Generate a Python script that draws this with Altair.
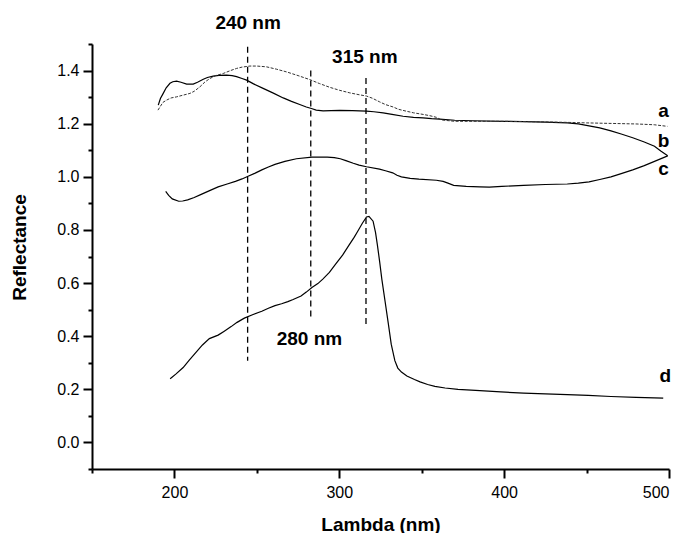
import altair as alt
import pandas as pd

# ---- data ----
a_x = [190, 193, 195.3, 198, 201.3, 205, 209.4, 212, 215.5, 218.5, 221.5, 225, 229.6, 234, 237.7, 241,
       245.8, 250, 255.9, 262, 268, 275, 282.1, 288, 294.2, 300, 306.4, 312, 316.5, 320, 324.5, 328,
       332.6, 336, 340.7, 345, 350.8, 355, 358.9, 362, 370, 381, 400, 421.5, 438, 450, 465, 480, 491, 499]
a_y = [1.251, 1.28, 1.289, 1.297, 1.301, 1.307, 1.314, 1.322, 1.339, 1.357, 1.370, 1.381, 1.389, 1.400,
       1.408, 1.413, 1.417, 1.417, 1.414, 1.405, 1.395, 1.381, 1.366, 1.351, 1.337, 1.326, 1.316, 1.309,
       1.304, 1.296, 1.282, 1.272, 1.263, 1.254, 1.247, 1.241, 1.235, 1.230, 1.224, 1.214, 1.209, 1.209,
       1.209, 1.207, 1.205, 1.203, 1.201, 1.199, 1.196, 1.19]

b_x = [190.2, 191.5, 193.2, 195, 197.3, 199, 201.3, 204, 207.4, 211.4, 214, 217.5, 220, 223.5, 227, 231.6,
       235, 237.7, 241, 243.8, 248, 253.8, 260, 266, 271, 276, 280, 283.1, 286, 290.2, 295, 300.3, 308,
       316.5, 321, 326.6, 332, 338.7, 345, 350.8, 356, 360.9, 370, 381, 400, 411.8, 425, 438.3, 445,
       451.5, 458, 464.8, 471, 478, 485, 491.2, 495, 499.2]
b_y = [1.27, 1.295, 1.314, 1.335, 1.352, 1.358, 1.360, 1.356, 1.349, 1.349, 1.356, 1.367, 1.374, 1.379,
       1.382, 1.383, 1.381, 1.377, 1.370, 1.364, 1.350, 1.333, 1.315, 1.297, 1.284, 1.272, 1.263, 1.257,
       1.251, 1.248, 1.249, 1.25, 1.249, 1.247, 1.245, 1.241, 1.235, 1.228, 1.224, 1.222, 1.219, 1.217,
       1.213, 1.211, 1.209, 1.208, 1.206, 1.203, 1.199, 1.192, 1.184, 1.173, 1.161, 1.147, 1.131, 1.115,
       1.097, 1.079]

c_x = [194.7, 196.5, 198.7, 202.6, 205, 208, 212, 215.9, 221, 226.5, 232, 237, 241, 245, 249, 253, 257,
       261, 267, 274, 283.4, 292.7, 297, 300.6, 304, 308.5, 312, 316.5, 324.4, 328, 332.4, 335, 337.7,
       343, 348.3, 358.9, 363, 365.5, 369.4, 377, 385.3, 391, 398.6, 411.8, 425, 438.3, 445, 451.5, 458,
       464.8, 471, 478, 485, 491.2, 499.2]
c_y = [0.945, 0.93, 0.917, 0.908, 0.909, 0.913, 0.922, 0.933, 0.947, 0.962, 0.973, 0.983, 0.992, 1.003,
       1.014, 1.026, 1.037, 1.047, 1.058, 1.068, 1.074, 1.074, 1.072, 1.068, 1.061, 1.051, 1.044, 1.038,
       1.029, 1.023, 1.015, 1.006, 1.0, 0.994, 0.991, 0.987, 0.983, 0.977, 0.968, 0.964, 0.962, 0.961,
       0.964, 0.968, 0.971, 0.973, 0.976, 0.981, 0.99, 1.0, 1.012, 1.026, 1.042, 1.058, 1.079]

d_x = [197.4, 201, 205.3, 209, 213.2, 217, 221.2, 226.5, 230, 234.4, 238, 242.4, 247, 253, 257, 261, 265,
       268.8, 272, 276.8, 280, 283.4, 287, 290, 294, 298, 302, 306, 309, 311.2, 314, 316.5, 318, 320.5,
       322, 323.1, 324.5, 325.8, 327.8, 329.7, 331.5, 333.7, 335.5, 337.7, 341, 345.6, 349, 353.6, 358,
       364.2, 372, 385.3, 398, 411.8, 425, 438.3, 451, 464.8, 480, 496.5]
d_y = [0.24, 0.258, 0.282, 0.31, 0.34, 0.367, 0.391, 0.404, 0.418, 0.436, 0.452, 0.468, 0.48, 0.494,
       0.505, 0.515, 0.522, 0.53, 0.538, 0.551, 0.566, 0.583, 0.598, 0.615, 0.64, 0.673, 0.705, 0.744,
       0.772, 0.795, 0.825, 0.849, 0.851, 0.833, 0.79, 0.744, 0.68, 0.615, 0.53, 0.449, 0.37, 0.308,
       0.28, 0.265, 0.25, 0.237, 0.228, 0.218, 0.211, 0.205, 0.2, 0.195, 0.19, 0.186, 0.183, 0.18,
       0.177, 0.173, 0.17, 0.167]

# dashed marker lines
mark_x = [244.4, 282.7, 316.2]
mark_top = [1.49, 1.40, 1.372]
mark_bottom = [0.308, 0.461, 0.44]

# annotation labels
note_text = ["240 nm", "315 nm", "280 nm"]
note_x = [244.7, 315.5, 281.9]
note_y = [1.555, 1.429, 0.368]

curve_names = ["a", "b", "c", "d"]
curve_label_x = [496.7, 496.7, 496.7, 497.7]
curve_label_y = [1.226, 1.1125, 1.006, 0.226]

x_major = [200, 300, 400, 500]
x_minor = [150, 250, 350, 450]
y_major = [0.0, 0.2, 0.4, 0.6, 0.8, 1.0, 1.2, 1.4]
y_minor = [-0.1, 0.1, 0.3, 0.5, 0.7, 0.9, 1.1, 1.3, 1.5]

# ---- tables ----
df_a = pd.DataFrame({"x": a_x, "y": a_y})
solid = []
for name, xs_, ys_ in (("b", b_x, b_y), ("c", c_x, c_y), ("d", d_x, d_y)):
    for xv, yv in zip(xs_, ys_):
        solid.append({"s": name, "x": xv, "y": yv})
df_solid = pd.DataFrame(solid)
df_marks = pd.DataFrame({"x": mark_x, "y": mark_top, "y2": mark_bottom})
df_notes = pd.DataFrame({"x": note_x, "y": note_y, "t": note_text})
df_curves = pd.DataFrame({"x": curve_label_x, "y": curve_label_y, "t": curve_names})

FONT = "Liberation Sans"
xs = alt.Scale(domain=[150, 500], nice=False, zero=False)
ys = alt.Scale(domain=[-0.1, 1.5], nice=False, zero=False)

major_x = alt.Axis(orient="bottom", values=x_major, format="d", grid=False,
                   tickSize=9, tickWidth=2, tickColor="black",
                   domainColor="black", domainWidth=2,
                   labelFont=FONT, labelFontSize=16, labelColor="black", labelPadding=6,
                   title="Lambda (nm)", titleFont=FONT, titleFontSize=19, titleFontWeight="bold",
                   titleColor="black", titleY=61, titleBaseline="alphabetic")
minor_x = alt.Axis(orient="bottom", values=x_minor, grid=False, labels=False, domain=False,
                   tickSize=4, tickWidth=2, tickColor="black", title="")
major_y = alt.Axis(orient="left", values=y_major, format=".1f", grid=False,
                   tickSize=9, tickWidth=2, tickColor="black",
                   domainColor="black", domainWidth=2,
                   labelFont=FONT, labelFontSize=16, labelColor="black", labelPadding=4,
                   title="Reflectance", titleFont=FONT, titleFontSize=19, titleFontWeight="bold",
                   titleColor="black", titleX=-67, titleY=203, titleAngle=270,
                   titleBaseline="alphabetic", titleAlign="center")
minor_y = alt.Axis(orient="left", values=y_minor, grid=False, labels=False, domain=False,
                   tickSize=4, tickWidth=2, tickColor="black", title="")

line_a = alt.Chart(df_a).mark_line(color="#333333", strokeWidth=1, strokeDash=[3, 1.5]).encode(
    x=alt.X("x:Q", scale=xs, axis=minor_x),
    y=alt.Y("y:Q", scale=ys, axis=minor_y),
)
line_solid = alt.Chart(df_solid).mark_line(color="black", strokeWidth=1.2).encode(
    x=alt.X("x:Q", scale=xs, axis=major_x),
    y=alt.Y("y:Q", scale=ys, axis=major_y),
    detail="s:N",
)
rules = alt.Chart(df_marks).mark_rule(color="black", strokeWidth=1.3, strokeDash=[6, 4]).encode(
    x=alt.X("x:Q", scale=xs, axis=None),
    y=alt.Y("y:Q", scale=ys, axis=None),
    y2="y2:Q",
)
notes = alt.Chart(df_notes).mark_text(font=FONT, fontSize=19, fontWeight="bold", color="black",
                                      align="center", baseline="alphabetic").encode(
    x=alt.X("x:Q", scale=xs, axis=None),
    y=alt.Y("y:Q", scale=ys, axis=None),
    text="t:N",
)
curve_labels = alt.Chart(df_curves).mark_text(font=FONT, fontSize=19, fontWeight="bold", color="black",
                                              align="center", baseline="alphabetic").encode(
    x=alt.X("x:Q", scale=xs, axis=None),
    y=alt.Y("y:Q", scale=ys, axis=None),
    text="t:N",
)

chart = alt.layer(line_solid, line_a, rules, notes, curve_labels).resolve_axis(
    x="independent", y="independent"
).properties(
    width=577, height=425,
    autosize=alt.AutoSizeParams(type="none"),
    padding={"left": 92, "top": 44, "right": 13, "bottom": 64},
    background="white",
).configure_view(strokeWidth=0)

chart.save("out.html", embed_options={"renderer": "svg", "actions": False})
